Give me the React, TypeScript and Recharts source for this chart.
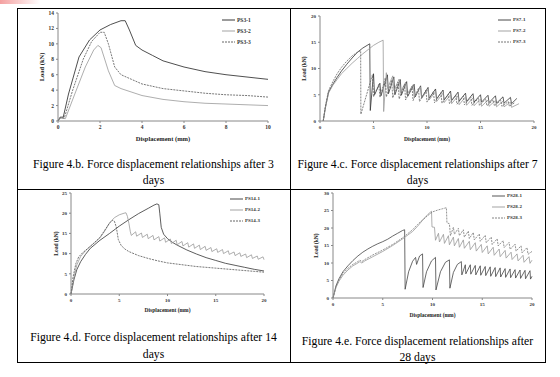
import React from 'react';
import { LineChart, Line, XAxis, YAxis, Legend } from 'recharts';

type Pt = [number, number];

// ---- 3 days ----
const ps3_1: Pt[] = [[0, 0], [0.1, 0.5], [0.25, 0.5], [0.5, 3.5], [1, 8.3], [1.5, 10.5], [2, 11.8], [2.5, 12.5], [3, 13], [3.2, 13], [3.4, 11.8], [3.7, 9.8], [4, 9.2], [4.5, 8.5], [5, 7.8], [6, 7], [7, 6.4], [8, 6], [9, 5.7], [10, 5.4]];
const ps3_2: Pt[] = [[0, 0], [0.1, 0.4], [0.35, 0.3], [0.8, 3.5], [1.3, 7], [1.7, 9.2], [1.9, 9.8], [2.05, 9.5], [2.4, 6.5], [2.7, 4.6], [3, 4.2], [4, 3.3], [5, 2.8], [6, 2.5], [7, 2.3], [8, 2.2], [9, 2.1], [10, 2.0]];
const ps3_3: Pt[] = [[0, 0], [0.1, 0.4], [0.3, 0.4], [0.7, 4], [1.2, 8], [1.6, 10.3], [2, 11.5], [2.2, 11.5], [2.4, 10], [2.7, 7], [3, 6], [3.5, 5.4], [4, 4.8], [5, 4.2], [6, 3.9], [7, 3.6], [8, 3.4], [9, 3.3], [10, 3.1]];
const ticks3X = [0, 2, 4, 6, 8, 10];
const ticks3Y = [0, 2, 4, 6, 8, 10, 12, 14];

// ---- 7 days ----
const ps7_1: Pt[] = [[0.3, 0], [0.5, 2.5], [0.8, 5.5], [1.2, 7], [1.6, 8.3], [2, 9.5], [2.5, 10.8], [3, 12], [3.5, 13.1], [4, 13.9], [4.4, 14.4], [4.65, 14.7], [4.7, 2.0],
  [5.0, 9.0], [5.1, 5.0], [5.6, 7.2], [5.7, 4.8], [6.3, 8.8], [6.4, 5.2], [6.9, 8.4], [7.0, 5.0], [7.5, 7.9], [7.6, 4.9], [8.1, 7.5], [8.2, 4.7], [8.8, 7.0], [8.9, 4.6], [9.4, 6.7], [9.5, 4.4], [10.1, 6.4], [10.2, 4.3], [10.8, 6.1], [10.9, 4.2], [11.5, 5.9], [11.6, 4.0], [12.2, 5.7], [12.3, 3.9], [12.9, 5.5], [13.0, 3.8], [13.6, 5.3], [13.7, 3.7], [14.3, 5.2], [14.4, 3.6], [15.0, 5.0], [15.1, 3.6], [15.7, 4.9], [15.8, 3.5], [16.4, 4.8], [16.5, 3.4], [17.1, 4.6], [17.2, 3.4], [17.8, 4.5], [17.9, 3.3], [18.4, 4.3]];
const ps7_2: Pt[] = [[0.3, 0], [0.5, 2.5], [0.8, 5.3], [1.2, 6.8], [1.6, 7.9], [2, 9.0], [2.5, 10.0], [3, 11.0], [3.5, 11.9], [4, 12.8], [4.5, 13.6], [5, 14.4], [5.5, 15.0], [5.9, 15.4], [5.95, 1.8],
  [6.2, 9.2], [6.3, 6.2], [6.8, 8.6], [6.9, 5.8], [7.4, 8.0], [7.5, 5.4], [8.0, 7.4], [8.1, 5.0], [8.7, 6.9], [8.8, 4.6], [9.4, 6.5], [9.5, 4.3], [10.1, 6.0], [10.2, 4.0], [10.8, 5.6], [10.9, 3.7], [11.5, 5.3], [11.6, 3.5], [12.2, 5.0], [12.3, 3.3], [12.9, 4.8], [13.0, 3.1], [13.6, 4.6], [13.7, 3.0], [14.3, 4.4], [14.4, 2.9], [15.0, 4.2], [15.1, 2.8], [15.7, 4.0], [15.8, 2.8], [16.4, 3.9], [16.5, 2.7], [17.1, 3.8], [17.2, 2.7], [17.8, 3.6], [17.9, 2.6], [18.6, 3.3]];
const ps7_3: Pt[] = [[0.3, 0], [0.5, 2.8], [0.8, 5.8], [1.2, 7.5], [1.6, 9.0], [2, 10.2], [2.5, 11.4], [3, 12.4], [3.5, 13.1], [3.8, 13.4], [3.82, 1.3],
  [4.9, 8.8], [5.0, 4.6], [5.5, 7.0], [5.6, 4.5], [6.1, 8.2], [6.2, 4.6], [6.7, 7.8], [6.8, 4.4], [7.3, 7.4], [7.4, 4.2], [7.9, 7.0], [8.0, 4.0], [8.6, 6.6], [8.7, 3.9], [9.2, 6.2], [9.3, 3.7], [9.9, 5.9], [10.0, 3.6], [10.6, 5.6], [10.7, 3.5], [11.3, 5.4], [11.4, 3.4], [12.0, 5.1], [12.1, 3.3], [12.7, 4.9], [12.8, 3.2], [13.4, 4.7], [13.5, 3.1], [14.1, 4.5], [14.2, 3.0], [14.8, 4.3], [14.9, 3.0], [15.5, 4.2], [15.6, 2.9], [16.2, 4.0], [16.3, 2.9], [16.9, 3.9], [17.0, 2.8], [17.6, 3.7], [17.7, 2.8], [18.2, 3.5]];
const ticks20X = [0, 5, 10, 15, 20];
const ticks7Y = [0, 5, 10, 15, 20];

// ---- 14 days ----
const ps14_1: Pt[] = [[0, 0], [0.3, 3.5], [0.6, 6], [1, 8], [1.5, 9.8], [2, 11.3], [3, 13.3], [4, 15], [5, 16.8], [6, 18.4], [7, 19.9], [8, 21.2], [8.6, 22], [8.9, 22.3], [9.1, 22.1], [9.2, 20], [9.35, 16.5], [9.6, 14.8], [10, 13.7], [10.5, 12.8], [11, 12.1], [12, 10.9], [13, 9.9], [14, 9.0], [15, 8.3], [16, 7.6], [17, 7.1], [18, 6.6], [19, 6.1], [20, 5.7]];
const ps14_2: Pt[] = [[0, 0], [0.3, 4.0], [0.6, 7.2], [1, 9.3], [1.5, 10.7], [2, 11.8], [2.5, 12.8], [3, 13.9], [3.5, 15.6], [4, 17.6], [4.5, 18.9], [5, 19.6], [5.5, 20.0], [5.7, 20.1], [5.85, 19.2], [6.0, 17.5], [6.15, 15.4], [6.25, 14.5],
  [6.7, 15.4], [6.8, 14.3], [7.3, 15.1], [7.4, 14.0], [7.9, 14.8], [8.0, 13.7], [8.5, 14.5], [8.6, 13.4], [9.1, 14.2], [9.2, 13.1], [9.7, 13.9], [9.8, 12.8], [10.3, 13.6], [10.4, 12.5], [10.9, 13.3], [11.0, 12.2], [11.5, 13.0], [11.6, 11.9], [12.1, 12.7], [12.2, 11.6], [12.7, 12.4], [12.8, 11.3], [13.3, 12.1], [13.4, 11.0], [13.9, 11.8], [14.0, 10.8], [14.5, 11.5], [14.6, 10.5], [15.1, 11.2], [15.2, 10.3], [15.7, 11.0], [15.8, 10.0], [16.3, 10.7], [16.4, 9.8], [16.9, 10.4], [17.0, 9.5], [17.5, 10.2], [17.6, 9.3], [18.1, 9.9], [18.2, 9.0], [18.7, 9.7], [18.8, 8.8], [19.3, 9.4], [19.4, 8.6], [19.9, 9.2], [20.0, 8.5]];
const ps14_3: Pt[] = [[0, 0], [0.2, 4], [0.5, 7.5], [0.8, 9.2], [1.2, 10.2], [2, 11.8], [3, 14.0], [3.5, 15.8], [4, 17.6], [4.3, 18.2], [4.5, 18.0], [4.7, 16.5], [4.9, 13.5], [5.2, 12.0], [5.6, 11.1], [6, 10.5], [7, 9.5], [8, 8.8], [9, 8.2], [10, 7.7], [11, 7.4], [12, 7.1], [13, 6.8], [14, 6.6], [15, 6.4], [16, 6.2], [17, 6.0], [18, 5.8], [19, 5.6], [20, 5.4]];
const ticks14Y = [0, 5, 10, 15, 20, 25];

// ---- 28 days ----
const ps28_1: Pt[] = [[0, 0], [0.3, 3.5], [0.6, 5.5], [1, 7.5], [1.5, 9.2], [2, 10.7], [2.5, 12], [3, 13.1], [3.5, 14], [4, 14.8], [4.5, 15.5], [5, 16.1], [5.5, 16.8], [6, 17.7], [6.5, 18.5], [7, 19.3], [7.2, 19.5], [7.25, 2.5],
  [7.6, 7.5], [8.0, 10.5], [8.3, 11.6], [8.4, 9.6], [8.7, 12.0], [9.0, 12.6], [9.05, 3.0], [9.4, 7.5], [9.9, 10.6], [10.3, 11.6], [10.35, 2.3], [10.8, 7.5], [11.3, 10.2], [11.7, 10.9], [11.75, 2.8], [12.1, 7.3], [12.5, 9.6], [12.9, 10.4], [12.95, 6.6], [13.3, 9.5], [13.35, 6.9], [13.8, 9.5], [13.85, 6.8], [14.3, 9.3], [14.35, 6.6], [14.8, 9.2], [14.85, 6.5], [15.3, 9.0], [15.35, 6.4], [15.8, 8.9], [15.85, 6.2], [16.3, 8.7], [16.35, 6.1], [16.8, 8.6], [16.85, 6.0], [17.3, 8.4], [17.35, 5.9], [17.8, 8.3], [17.85, 5.8], [18.3, 8.1], [18.35, 5.7], [18.8, 8.0], [18.85, 5.6], [19.3, 7.9], [19.35, 5.5], [19.8, 7.8], [19.85, 5.4], [20, 6.2]];
const ps28_2: Pt[] = [[0, 0], [0.3, 3], [0.6, 4.8], [1, 6.5], [1.5, 8], [2, 9.2], [2.5, 10.0], [2.7, 10.4], [2.9, 10.0], [3.2, 10.6], [4, 11.8], [5, 13.3], [6, 15.0], [7, 16.9], [8, 19.0], [8.5, 20.5], [9, 22.2], [9.5, 23.8], [9.9, 24.8], [9.95, 20.3], [10.2, 20.2], [10.3, 16.5],
  [10.6, 18.5], [10.7, 16.0], [11.1, 18.2], [11.2, 15.6], [11.6, 17.8], [11.7, 15.2], [12.1, 17.4], [12.2, 14.9], [12.6, 17.0], [12.7, 14.5], [13.1, 16.6], [13.2, 14.2], [13.7, 16.2], [13.8, 13.8], [14.3, 15.8], [14.4, 13.4], [14.9, 15.3], [15.0, 13.0], [15.5, 14.9], [15.6, 12.6], [16.1, 14.5], [16.2, 12.2], [16.7, 14.0], [16.8, 11.8], [17.3, 13.6], [17.4, 11.4], [17.9, 13.1], [18.0, 11.0], [18.5, 12.6], [18.6, 10.6], [19.1, 12.2], [19.2, 10.2], [19.7, 11.8], [19.8, 9.9], [20, 10.8]];
const ps28_3: Pt[] = [[0, 0], [0.3, 3.2], [0.6, 5.2], [1, 7], [1.5, 8.5], [2, 9.6], [2.5, 10.4], [2.7, 10.8], [2.9, 10.4], [3.2, 11.0], [4, 12.3], [5, 13.7], [6, 15.3], [7, 17.2], [8, 19.5], [8.5, 21.0], [9, 22.3], [9.5, 23.5], [10, 24.6], [10.5, 25.1], [11, 25.5], [11.4, 25.8], [11.45, 21.5], [11.7, 21.2], [11.8, 17.8],
  [12.1, 20.2], [12.2, 18.2], [12.6, 19.9], [12.7, 17.8], [13.1, 19.5], [13.2, 17.4], [13.6, 19.1], [13.7, 17.0], [14.1, 18.7], [14.2, 16.6], [14.7, 18.3], [14.8, 16.2], [15.3, 17.9], [15.4, 15.8], [15.9, 17.4], [16.0, 15.3], [16.5, 16.9], [16.6, 14.9], [17.1, 16.4], [17.2, 14.4], [17.7, 15.9], [17.8, 13.9], [18.3, 15.4], [18.4, 13.4], [18.9, 14.9], [19.0, 12.9], [19.5, 14.4], [19.6, 12.5], [20, 13.3]];
const ticks28Y = [0, 5, 10, 15, 20, 25, 30];

const SERIF = "'Liberation Serif', 'Times New Roman', serif";

type Series = { name: string; points: Pt[]; color: string; dash?: string };

const toData = (pts: Pt[]) => pts.map(([x, y]) => ({ x, y }));

type ChartProps = {
  left: number; top: number; width: number; height: number;
  margin: { top: number; right: number; bottom: number; left: number };
  yWidth: number; xHeight: number;
  xTicks: number[]; yTicks: number[];
  series: Series[];
  legend: { left: number; top: number };
  tickSize: number; labelSize: number; yLabelOffset: number;
};

const ForceChart = (p: ChartProps) => {
  const tickStyle = { fontSize: p.tickSize, fontFamily: SERIF, fontWeight: 'bold', fill: '#333' };
  const labelStyle = { fontSize: p.labelSize, fontFamily: SERIF, fontWeight: 'bold', fill: '#222', textAnchor: 'middle' as const };
  return (
    <div style={{ position: 'absolute', left: p.left, top: p.top }}>
      <LineChart width={p.width} height={p.height} margin={p.margin}>
        <XAxis type="number" dataKey="x" domain={[p.xTicks[0], p.xTicks[p.xTicks.length - 1]]} ticks={p.xTicks}
          height={p.xHeight} tickSize={2} stroke="#888" tick={tickStyle}
          label={{ value: 'Displacement (mm)', position: 'insideBottom', offset: 3, style: labelStyle }} />
        <YAxis type="number" dataKey="y" domain={[p.yTicks[0], p.yTicks[p.yTicks.length - 1]]} ticks={p.yTicks}
          width={p.yWidth} tickSize={2} stroke="#888" tick={tickStyle}
          label={{ value: 'Load (kN)', angle: -90, position: 'insideLeft', offset: p.yLabelOffset, style: labelStyle }} />
        <Legend layout="vertical" align="center" verticalAlign="middle"
          wrapperStyle={{ left: p.legend.left, top: p.legend.top, width: 'auto' }}
          content={() => (
            <div style={{ fontFamily: SERIF, fontSize: p.tickSize, fontWeight: 'bold', color: '#333' }}>
              {p.series.map((s) => (
                <div key={s.name} style={{ display: 'flex', alignItems: 'center', height: 11 }}>
                  <svg width={13} height={4}>
                    <line x1={0} y1={2} x2={13} y2={2} stroke={s.color} strokeWidth={0.9} strokeDasharray={s.dash} />
                  </svg>
                  <span style={{ marginLeft: 2 }}>{s.name}</span>
                </div>
              ))}
            </div>
          )} />
        {p.series.map((s) => (
          <Line key={s.name} name={s.name} data={toData(s.points)} dataKey="y" type="linear" dot={false}
            stroke={s.color} strokeWidth={0.8} strokeDasharray={s.dash} isAnimationActive={false} />
        ))}
      </LineChart>
    </div>
  );
};

const Caption = ({ left, top, width, lines, lineHeight }: { left: number; top: number; width: number; lines: string[]; lineHeight: number }) => (
  <div style={{ position: 'absolute', left, top, width, textAlign: 'center', fontFamily: SERIF, fontSize: 11.7, lineHeight: `${lineHeight}px`, color: '#000' }}>
    {lines.map((l) => <div key={l}>{l}</div>)}
  </div>
);

export default function App() {
  return (
    <div style={{ position: 'absolute', left: 0, top: 0, width: 560, height: 377, background: '#fff', overflow: 'hidden' }}>
      <div style={{ position: 'absolute', left: 0, top: 0, width: 40, height: 4, background: 'linear-gradient(90deg, #f4a0a0, #fff)' }} />
      {/* table frame */}
      <div style={{ position: 'absolute', left: 17, top: 8, width: 527, height: 353, border: '1px solid #000' }} />
      <div style={{ position: 'absolute', left: 290, top: 8, width: 1, height: 354, background: '#000' }} />
      <div style={{ position: 'absolute', left: 17, top: 189, width: 528, height: 1, background: '#000' }} />

      <ForceChart left={18} top={9} width={260} height={135} margin={{ top: 4, right: 10, bottom: 0, left: 0 }}
        yWidth={40} xHeight={23} xTicks={ticks3X} yTicks={ticks3Y} tickSize={5.5} labelSize={6.5} yLabelOffset={24}
        legend={{ left: 204, top: 5 }}
        series={[
          { name: 'PS3-1', points: ps3_1, color: '#222' },
          { name: 'PS3-2', points: ps3_2, color: '#999' },
          { name: 'PS3-3', points: ps3_3, color: '#555', dash: '2 1' },
        ]} />
      <ForceChart left={292} top={9} width={250} height={135} margin={{ top: 7, right: 8, bottom: 0, left: 0 }}
        yWidth={28} xHeight={23} xTicks={ticks20X} yTicks={ticks7Y} tickSize={5} labelSize={5.5} yLabelOffset={12}
        legend={{ left: 206, top: 5 }}
        series={[
          { name: 'PS7-1', points: ps7_1, color: '#333' },
          { name: 'PS7-2', points: ps7_2, color: '#999' },
          { name: 'PS7-3', points: ps7_3, color: '#666', dash: '2 1' },
        ]} />
      <ForceChart left={18} top={190} width={260} height={125} margin={{ top: 3, right: 14, bottom: 0, left: 0 }}
        yWidth={53} xHeight={21} xTicks={ticks20X} yTicks={ticks14Y} tickSize={5} labelSize={5.5} yLabelOffset={38}
        legend={{ left: 212, top: 3 }}
        series={[
          { name: 'PS14-1', points: ps14_1, color: '#333' },
          { name: 'PS14-2', points: ps14_2, color: '#999' },
          { name: 'PS14-3', points: ps14_3, color: '#555', dash: '2 1' },
        ]} />
      <ForceChart left={292} top={190} width={250} height={130} margin={{ top: 3, right: 10, bottom: 0, left: 0 }}
        yWidth={41} xHeight={22} xTicks={ticks20X} yTicks={ticks28Y} tickSize={5} labelSize={5.5} yLabelOffset={24}
        legend={{ left: 200, top: 0 }}
        series={[
          { name: 'PS28-1', points: ps28_1, color: '#444' },
          { name: 'PS28-2', points: ps28_2, color: '#999' },
          { name: 'PS28-3', points: ps28_3, color: '#777', dash: '2 1' },
        ]} />

      <Caption left={17} top={157} width={273} lineHeight={16} lines={['Figure 4.b. Force displacement relationships after 3', 'days']} />
      <Caption left={290} top={157} width={255} lineHeight={16} lines={['Figure 4.c. Force displacement relationships after 7', 'days']} />
      <Caption left={17} top={329} width={273} lineHeight={17} lines={['Figure 4.d. Force displacement relationships after 14', 'days']} />
      <Caption left={290} top={334} width={255} lineHeight={16} lines={['Figure 4.e. Force displacement relationships after', '28 days']} />
    </div>
  );
}
